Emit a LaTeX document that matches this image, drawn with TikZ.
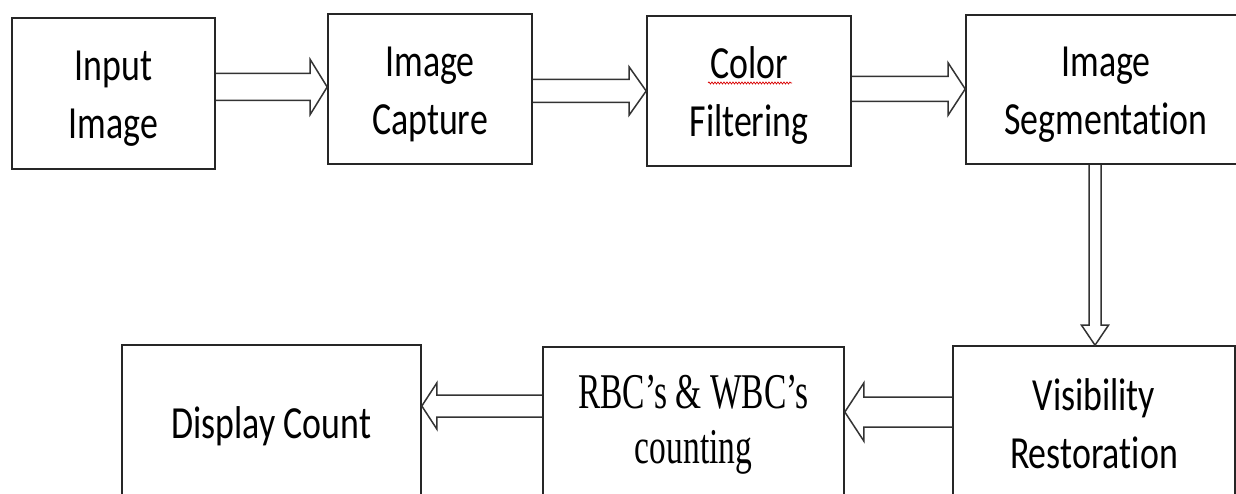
\documentclass[tikz,border=0pt]{standalone}
\usepackage{fontspec}
\setmainfont{Carlito}[FakeStretch=0.78,RawFeature={-liga;-clig;-calt;-dlig}]
\newfontfamily\tnr{Liberation Serif}[FakeStretch=0.67]
\usetikzlibrary{calc,decorations.pathmorphing}
\newcommand\blockR[5]{%
  \draw[blk] let \p1=(#1.east), \p2=(#2.west) in
    (\x1,#3pt+#4pt) -- (\x2-17pt,#3pt+#4pt) -- (\x2-17pt,#3pt+#5pt) -- (\x2,#3pt)
    -- (\x2-17pt,#3pt-#5pt) -- (\x2-17pt,#3pt-#4pt) -- (\x1,#3pt-#4pt);}
\newcommand\blockL[6]{%
  \draw[blk] let \p1=(#1.west), \p2=(#2.east) in
    (\x1,#3pt+#4pt) -- (\x2+#6pt,#3pt+#4pt) -- (\x2+#6pt,#3pt+#5pt) -- (\x2,#3pt)
    -- (\x2+#6pt,#3pt-#5pt) -- (\x2+#6pt,#3pt-#4pt) -- (\x1,#3pt-#4pt);}
\newcommand\blockD[5]{%
  \draw[blk] let \p1=(#1.south), \p2=(#2.north) in
    (#3pt-#4pt,\y1) -- (#3pt-#4pt,\y2+20pt) -- (#3pt-#5pt,\y2+20pt) -- (#3pt,\y2)
    -- (#3pt+#5pt,\y2+20pt) -- (#3pt+#4pt,\y2+20pt) -- (#3pt+#4pt,\y1);}
\begin{document}
\begin{tikzpicture}[x=1pt,y=1pt,
  box/.style={draw=black!85, line width=1.6pt, fill=white, inner sep=0pt,
    align=center, font={\fontsize{46}{58}\selectfont},
    text height=91pt, text depth=0pt},
  onebox/.style={box, text height=31pt},
  tbox/.style={box, font={\tnr\fontsize{50}{55}\selectfont}, text height=79pt},
  blk/.style={draw=black!80, line width=1.5pt, line join=miter}]
\useasboundingbox (0,0) rectangle (1236,493);
\clip (0,0) rectangle (1236,493);
\fill[white] (0,0) rectangle (1236,493);
\node[box, minimum width=203pt, minimum height=151pt] (inp) at (113.5,399.5) {Input\\Image};
\node[box, minimum width=204pt, minimum height=150pt] (cap) at (430,404) {Image\\Capture};
\node[box, minimum width=204pt, minimum height=150pt] (col) at (749,402) {Color\\Filtering};
\node[box, minimum width=280pt, minimum height=149pt] (seg) at (1106,403.5) {Image\\Segmenta\kern0pt tion};
\node[box, minimum width=282pt, minimum height=154pt] (vis) at (1094,70) {Visibility\\Restora\kern0pt tion};
\node[tbox, minimum width=301pt, minimum height=153pt] (cnt) at (693.5,69.5) {RBC’s \& WBC’s\\counting};
\node[onebox, minimum width=299pt, minimum height=155pt] (dis) at (271.5,70.5) {Display Count};
\blockR{inp}{cap}{406}{13.5}{27.5}
\blockR{cap}{col}{402}{11.5}{24}
\blockR{col}{seg}{404}{12.5}{26}
\blockD{seg}{vis}{1095}{6}{13.5}
\blockL{vis}{cnt}{81}{15}{29}{19}
\blockL{cnt}{dis}{87}{11}{23}{15}
\draw[red!85!black, line width=0.7pt, decorate,
  decoration={snake, segment length=3pt, amplitude=1pt}] (708,410) -- (792,410);
\end{tikzpicture}
\end{document}
